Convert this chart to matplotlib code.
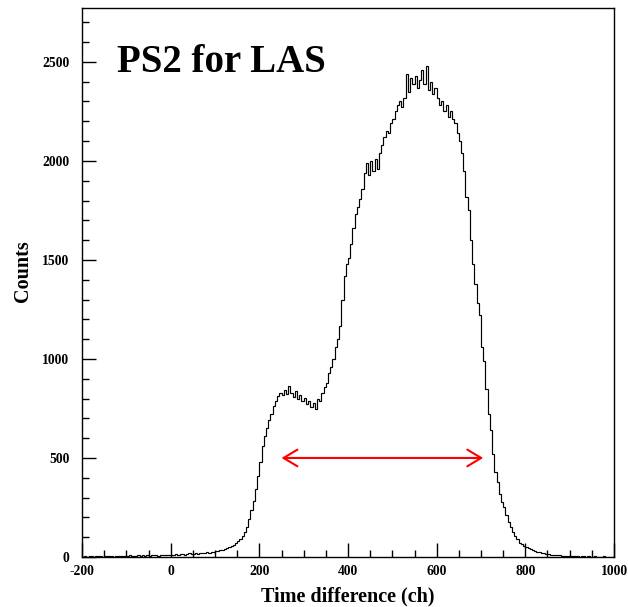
import numpy as np
import matplotlib
matplotlib.use("Agg")
import matplotlib.pyplot as plt
from matplotlib.ticker import MultipleLocator

plt.rcParams['font.family'] = ['Liberation Serif', 'DejaVu Serif']
plt.rcParams['font.weight'] = 'bold'
plt.rcParams['axes.unicode_minus'] = False

# Histogram: 5-channel bins from -200 to 1000
bin_edges = list(range(-200, 1001, 5))
counts = [
    # -200 .. -100
    2, 4, 1, 3, 5, 2, 6, 3, 4, 2, 5, 3, 6, 4, 2, 5, 7, 3, 4, 6,
    # -100 .. 0
    5, 8, 4, 7, 6, 9, 5, 8, 7, 10, 6, 9, 8, 11, 7, 10, 9, 12, 8, 11,
    # 0 .. 100
    12, 10, 14, 11, 13, 16, 12, 15, 18, 14, 17, 20, 16, 19, 22, 18, 24, 21, 26, 23,
    # 100 .. 200
    28, 31, 33, 36, 40, 44, 48, 55, 62, 72, 82, 92, 105, 125, 150, 190, 235, 285, 345, 410,
    # 200 .. 300
    480, 560, 610, 650, 690, 720, 760, 790, 815, 830, 820, 845, 825, 865, 830, 810, 840, 800, 820, 790,
    # 300 .. 400
    805, 770, 790, 755, 780, 745, 800, 790, 830, 860, 880, 930, 960, 1000, 1060, 1100, 1165, 1300, 1420, 1480,
    # 400 .. 500
    1510, 1580, 1660, 1730, 1765, 1810, 1860, 1940, 1990, 1930, 2000, 1950, 2010, 1960, 2040, 2080, 2120, 2150, 2140, 2190,
    # 500 .. 600
    2210, 2250, 2280, 2300, 2270, 2320, 2440, 2350, 2420, 2390, 2430, 2370, 2410, 2460, 2390, 2480, 2360, 2400, 2340, 2370,
    # 600 .. 700
    2320, 2280, 2300, 2250, 2280, 2220, 2250, 2210, 2190, 2140, 2100, 2040, 1950, 1820, 1750, 1600, 1480, 1380, 1280, 1220,
    # 700 .. 800
    1060, 990, 850, 720, 640, 520, 430, 380, 320, 280, 250, 210, 175, 150, 125, 105, 90, 72, 65, 55,
    # 800 .. 900
    50, 44, 38, 35, 30, 26, 24, 20, 18, 16, 14, 12, 10, 11, 8, 9, 7, 6, 5, 6,
    # 900 .. 1000
    4, 5, 3, 4, 2, 3, 4, 2, 3, 1, 2, 3, 2, 1, 2, 3, 1, 2, 1, 2,
]

arrow_from = 250
arrow_to = 705
arrow_level = 500
title_text = "PS2 for LAS"
xlabel = "Time difference (ch)"
ylabel = "Counts"

fig = plt.figure(figsize=(6.28, 6.07), dpi=100)
ax = fig.add_axes([0.1306, 0.0824, 0.8471, 0.9044])

ax.stairs(counts, bin_edges, color='black', lw=0.85)

ax.set_xlim(-200, 1000)
ax.set_ylim(0, 2772)

ax.xaxis.set_major_locator(MultipleLocator(200))
ax.xaxis.set_minor_locator(MultipleLocator(50))
ax.yaxis.set_major_locator(MultipleLocator(500))
ax.yaxis.set_minor_locator(MultipleLocator(100))
ax.tick_params(which='both', direction='in', top=False, right=False, width=1.0)
ax.tick_params(which='major', length=10)
ax.tick_params(which='minor', length=5)
ax.tick_params(axis='y', which='major', pad=9, labelsize=9.8)
ax.tick_params(axis='x', which='major', pad=6, labelsize=9.8)
for lab in ax.get_xticklabels() + ax.get_yticklabels():
    lab.set_fontweight('bold')

for sp in ax.spines.values():
    sp.set_linewidth(1.0)

ax.set_xlabel(xlabel, fontsize=14.5, fontweight='bold')
ax.set_ylabel(ylabel, fontsize=14.5, fontweight='bold')
ax.xaxis.set_label_coords(0.5, -0.054)
ax.yaxis.set_label_coords(-0.092, 0.52)

ax.text(-120, 2449, title_text, fontsize=28, fontweight='bold', va='baseline', ha='left')

ax.annotate('', xy=(arrow_to, arrow_level), xytext=(arrow_from, arrow_level),
            arrowprops=dict(arrowstyle='<->,head_length=0.5,head_width=0.3',
                            color='red', lw=1.5, mutation_scale=20,
                            shrinkA=0, shrinkB=0))

fig.savefig('out.png', dpi=100)
